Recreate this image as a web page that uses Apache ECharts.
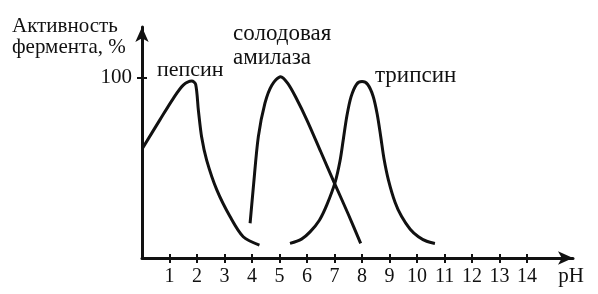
<!DOCTYPE html>
<html>
<head>
<meta charset="utf-8">
<script src="https://cdn.jsdelivr.net/npm/echarts@6/dist/echarts.min.js"></script>
<style>
html,body{margin:0;padding:0;background:#fff;}
#chart{width:598px;height:294px;}
</style>
</head>
<body>
<div id="chart"></div>
<script>
// Data: [pH, activity %]
const pepsin = [[0.02,61],[0.65,76.7],[1.14,88.7],[1.5,96],[1.81,98.3],[1.95,96.5],[2.05,82],[2.17,67],[2.35,54.4],[2.72,37.8],[3.2,23],[3.68,11.8],[4.27,7.2]];
const amylase = [[3.93,19.3],[4.05,39.6],[4.23,67.4],[4.47,86],[4.72,96],[5.04,100.7],[5.3,97],[5.6,89],[6.0,76.5],[6.5,59],[7.0,41.5],[7.5,24.3],[7.95,8.1]];
const trypsin = [[5.38,8.1],[5.8,10.5],[6.11,14.5],[6.45,21],[6.72,29.5],[7.02,42],[7.2,54],[7.32,66],[7.45,79],[7.6,89.5],[7.8,96.5],[8.0,98],[8.2,96.5],[8.4,90],[8.55,80],[8.68,67.4],[8.8,55],[8.96,43.3],[9.2,31],[9.44,23],[9.75,16],[10.05,11.8],[10.35,9.3],[10.65,8.1]];
const xTicks = [1,2,3,4,5,6,7,8,9,10,11,12,13,14];
const yTicks = [100];
const curveNames = ['пепсин','солодовая\nамилаза','трипсин'];
const yTitle = 'Активность\nфермента, %';
const xTitle = 'pH';

const FONT = '"Liberation Serif", serif';
const INK = '#111';
const chart = echarts.init(document.getElementById('chart'));

const baseX = {type:'value', min:0, max:15.67, interval:1, gridIndex:0, splitLine:{show:false}};
const baseY = {type:'value', min:0, max:128.3, interval:100, gridIndex:0, splitLine:{show:false}};

const lineSeries = (data) => ({
  type:'line', data, smooth:0.3, symbol:'none',
  lineStyle:{color:INK, width:3}, xAxisIndex:0, yAxisIndex:0, z:3
});

chart.setOption({
  backgroundColor:'#fff',
  animation:false,
  grid:{left:142, top:27, right:25, bottom:36},
  xAxis:[
    Object.assign({}, baseX, {
      position:'bottom',
      name:xTitle, nameLocation:'end', nameGap:-2,
      nameTextStyle:{fontFamily:FONT, fontSize:21, color:INK, align:'center', verticalAlign:'top', padding:[8,0,0,0]},
      axisLine:{show:true, lineStyle:{color:INK, width:3}, symbol:['none','arrow'], symbolSize:[10,15]},
      axisTick:{show:true, inside:false, length:5, lineStyle:{color:INK, width:2}, customValues:xTicks},
      axisLabel:{show:true, margin:9, fontFamily:FONT, fontSize:20, color:INK, customValues:xTicks}
    }),
    Object.assign({}, baseX, {
      position:'bottom',
      axisLine:{show:false},
      axisTick:{show:true, inside:true, length:4, lineStyle:{color:INK, width:2}, customValues:xTicks},
      axisLabel:{show:false}
    })
  ],
  yAxis:[
    Object.assign({}, baseY, {
      position:'left',
      axisLine:{show:true, lineStyle:{color:INK, width:3}, symbol:['none','arrow'], symbolSize:[10,15]},
      axisTick:{show:true, inside:false, length:5, lineStyle:{color:INK, width:2}, customValues:yTicks},
      axisLabel:{show:true, margin:10, fontFamily:FONT, fontSize:21, color:INK, customValues:yTicks, padding:[3,0,0,0]}
    }),
    Object.assign({}, baseY, {
      position:'left',
      axisLine:{show:false},
      axisTick:{show:true, inside:true, length:5, lineStyle:{color:INK, width:2}, customValues:yTicks},
      axisLabel:{show:false}
    })
  ],
  series:[lineSeries(pepsin), lineSeries(amylase), lineSeries(trypsin)],
  graphic:[
    {type:'text', left:12, top:16, style:{text:yTitle, font:'21px "Liberation Serif"', fill:INK, lineHeight:21}},
    {type:'text', left:157, top:59, style:{text:curveNames[0], font:'22px "Liberation Serif"', fill:INK}},
    {type:'text', left:233, top:22, style:{text:curveNames[1], font:'23px "Liberation Serif"', fill:INK, lineHeight:24}},
    {type:'text', left:375, top:64, style:{text:curveNames[2], font:'23px "Liberation Serif"', fill:INK}}
  ]
});
</script>
</body>
</html>
